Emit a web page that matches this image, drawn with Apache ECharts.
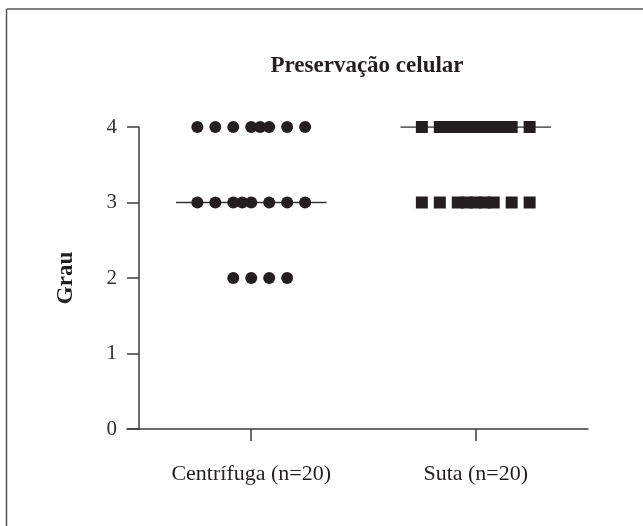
<!DOCTYPE html>
<html>
<head>
<meta charset="utf-8">
<script src="https://cdn.jsdelivr.net/npm/echarts@6/dist/echarts.min.js"></script>
<style>
  html, body { margin: 0; padding: 0; background: #ffffff; }
  #chart { width: 643px; height: 526px; }
</style>
</head>
<body>
<div id="chart"></div>
<script>
// ---- data ----
const titleText = 'Preservação celular';
const yAxisName = 'Grau';
const categories = ['Centrífuga (n=20)', 'Suta (n=20)'];
const categoryPos = [1, 3];
const yTicks = [0, 1, 2, 3, 4];

// Centrífuga: grade values and horizontal jitter of each dot
const centrifugaGrau = [4, 4, 4, 4, 4, 4, 4, 4, 3, 3, 3, 3, 3, 3, 3, 3, 2, 2, 2, 2];
const centrifugaJitter = [-0.48, -0.32, -0.16, 0, 0.08, 0.16, 0.32, 0.48,
                          -0.48, -0.32, -0.16, -0.08, 0, 0.16, 0.32, 0.48,
                          -0.16, 0, 0.16, 0.32];
// Suta
const sutaGrau = [4, 4, 4, 4, 4, 4, 4, 4, 4, 4, 4, 3, 3, 3, 3, 3, 3, 3, 3, 3];
const sutaJitter = [-0.48, -0.32, -0.24, -0.16, -0.08, 0, 0.08, 0.16, 0.24, 0.32, 0.48,
                    -0.48, -0.32, -0.16, -0.08, 0, 0.08, 0.16, 0.32, 0.48];
const medians = [3, 4];
const medianHalfWidth = 0.67;

// ---- build ----
const font = '"Liberation Serif", "Times New Roman", serif';
const ink = '#231f20';
const axisColor = '#3d3d3d';

function pts(grau, jitter, center) {
  return grau.map((g, i) => [center + jitter[i], g]);
}
function medianLine(i) {
  return [[categoryPos[i] - medianHalfWidth, medians[i]], [categoryPos[i] + medianHalfWidth, medians[i]]];
}

const chart = echarts.init(document.getElementById('chart'), null, { renderer: 'canvas' });
chart.setOption({
  backgroundColor: '#ffffff',
  animation: false,
  title: {
    text: titleText,
    left: 362,
    top: 50,
    textAlign: 'center',
    textStyle: { fontFamily: font, fontSize: 23, fontWeight: 'bold', color: ink }
  },
  graphic: [
    { type: 'line', shape: { x1: 6.5, y1: 9, x2: 643, y2: 9 }, style: { stroke: '#555', lineWidth: 1.5 }, silent: true },
    { type: 'line', shape: { x1: 6.5, y1: 9, x2: 6.5, y2: 526 }, style: { stroke: '#555', lineWidth: 1.5 }, silent: true }
  ],
  grid: { left: 127, right: 55, top: 127, bottom: 97 },
  xAxis: {
    type: 'value',
    min: -0.1067,
    max: 4,
    splitLine: { show: false },
    axisLine: { show: true, onZero: true, lineStyle: { color: axisColor, width: 1.5 } },
    axisTick: { show: true, customValues: categoryPos, length: 12, lineStyle: { color: axisColor, width: 1.5 } },
    axisLabel: {
      show: true,
      customValues: categoryPos,
      formatter: v => categories[categoryPos.indexOf(Math.round(v))] || '',
      margin: 34,
      fontFamily: font, fontSize: 22, color: ink
    }
  },
  yAxis: {
    type: 'value',
    min: 0,
    max: 4,
    interval: 1,
    name: yAxisName,
    nameLocation: 'middle',
    nameGap: 49,
    nameTextStyle: { fontFamily: font, fontSize: 23, fontWeight: 'bold', color: ink },
    splitLine: { show: false },
    axisLine: { show: true, onZero: true, lineStyle: { color: axisColor, width: 1.5 } },
    axisTick: { show: true, length: 12, lineStyle: { color: axisColor, width: 1.5 } },
    axisLabel: {
      margin: 10,
      formatter: v => (yTicks.includes(v) ? String(v) : ''),
      fontFamily: font, fontSize: 21, color: '#333'
    }
  },
  series: [
    {
      type: 'line', data: medianLine(0), symbol: 'none', z: 1,
      lineStyle: { color: '#333', width: 1.5 }, silent: true
    },
    {
      type: 'line', data: medianLine(1), symbol: 'none', z: 1,
      lineStyle: { color: '#333', width: 1.5 }, silent: true
    },
    {
      type: 'scatter', name: categories[0], data: pts(centrifugaGrau, centrifugaJitter, categoryPos[0]),
      symbol: 'circle', symbolSize: 12, z: 3,
      itemStyle: { color: ink, opacity: 1 }
    },
    {
      type: 'scatter', name: categories[1], data: pts(sutaGrau, sutaJitter, categoryPos[1]),
      symbol: 'rect', symbolSize: 12, z: 3,
      itemStyle: { color: ink, opacity: 1 }
    }
  ]
});
</script>
</body>
</html>
